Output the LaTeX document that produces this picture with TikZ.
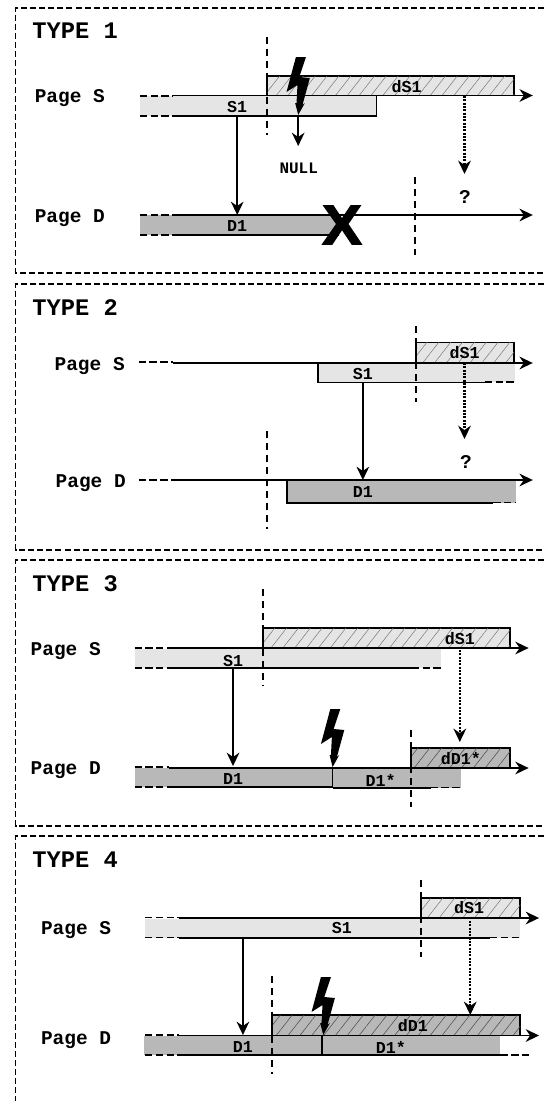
\documentclass[tikz,border=0pt]{standalone}
\usepackage{fontspec}
\setmonofont{Liberation Mono}
\newfontfamily\crossfont[BoldFeatures={FakeBold=2.5}]{Liberation Sans}
\usetikzlibrary{arrows.meta}
\usetikzlibrary{patterns.meta}
\definecolor{barlight}{gray}{0.90}
\definecolor{bardark}{gray}{0.72}
\tikzset{
  frameline/.style={line width=1pt,dash pattern=on 4.5pt off 2.3pt},
  cutline/.style={line width=1.2pt,dash pattern=on 5pt off 4pt},
  axisline/.style={line width=1.3pt},
  stubline/.style={line width=1.2pt,dash pattern=on 5.5pt off 2.6pt},
  copyarrow/.style={line width=1.2pt,-{Stealth[length=10pt,width=9.5pt]}},
  lateraarrow/.style={line width=1.6pt,dash pattern=on 1.4pt off 1.1pt,-{Stealth[length=10pt,width=9.5pt]}},
  hatchlight/.style={line width=1.3pt,fill=barlight,postaction={pattern={Lines[angle=52,distance=7pt,line width=.35pt]},pattern color=black!55}},
  hatchdark/.style={line width=1.3pt,fill=bardark,postaction={pattern={Lines[angle=52,distance=7pt,line width=.4pt]},pattern color=black!70}},
  typelabel/.style={inner sep=0pt,font=\ttfamily\bfseries\fontsize{17.8}{17.8}\selectfont},
  pagelabel/.style={inner sep=0pt,yshift=-1.4pt,font=\ttfamily\bfseries\fontsize{14.6}{14.6}\selectfont},
  barlabel/.style={inner sep=0pt,font=\ttfamily\bfseries\fontsize{12.5}{12.5}\selectfont},
  bolt/.pic={
    \fill (-2.2,-58)--(7.4,-58)--(1,-38)--(11.2,-37)--(4.1,-10)--(6.4,-12)--(0,0)--(-2.9,-12)--(-1.6,-12)--(-0.7,-30)--(-11.2,-23)--cycle;
  }
}
\begin{document}
\begin{tikzpicture}[line cap=butt,line join=miter,x=0.782pt,y=-0.75pt]
\useasboundingbox (0,0) rectangle (521.7,1101);
% TYPE 1
\draw[frameline] (521.7,8)--(15,8)--(15,273)--(521.7,273);
\node[typelabel] (typeA) at (72,31) {TYPE 1};
\fill[barlight] (134,96) rectangle (361,116);
\fill[bardark] (134,215) rectangle (325,235);
\draw[hatchlight] (256,95)--(256,76)--(493,76)--(493,95);
\draw[axisline] (166,116)--(361,116)--(361,96);
\draw[axisline] (166,235)--(325,235);
\draw[stubline] (134,96)--(166,96) (134,116)--(166,116) (134,215)--(166,215) (134,235)--(166,235);
\draw[cutline] (256,37)--(256,135);
\draw[cutline] (398,177)--(398,255);
\coordinate (axisSa) at (166,95.5);
\coordinate (axisSb) at (511,95.5);
\coordinate (axisDa) at (166,215);
\coordinate (axisDb) at (511,215);
\draw[copyarrow] (axisSa)--(axisSb);
\draw[copyarrow] (axisDa)--(axisDb);
\node[pagelabel] (pageSa) at (67,96) {Page S};
\node[pagelabel] (pageDa) at (67,216) {Page D};
\node[barlabel] (labSa) at (227.5,107) {S1};
\node[barlabel] (labdSa) at (390,87) {dS1};
\node[barlabel] (labDa) at (227.5,226) {D1};
\node[barlabel,font=\ttfamily\bfseries\fontsize{12}{12}\selectfont] (labNull) at (286.5,168) {NULL};
\node[pagelabel] (askA) at (446,195) {?};
\node[inner sep=0pt,xscale=1.06,font=\crossfont\bfseries\fontsize{42}{42}\selectfont] (crossA) at (328,225) {X};
\coordinate (fromSa) at (227.5,116);
\coordinate (toDa) at (227.5,215);
\coordinate (nullA) at (286,115);
\coordinate (nullB) at (286,146);
\coordinate (fromdSa) at (445.5,96);
\coordinate (todDa) at (445.5,174);
\draw[copyarrow] (fromSa)--(toDa);
\draw[copyarrow] (nullA)--(nullB);
\draw[lateraarrow] (fromdSa)--(todDa);
\pic at (286,115) {bolt};
% TYPE 2
\draw[frameline] (521.7,284)--(15,284)--(15,550)--(521.7,550);
\node[typelabel] (typeB) at (72,308) {TYPE 2};
\fill[barlight] (305,363) rectangle (494,382);
\fill[bardark] (275,480) rectangle (495,503);
\draw[hatchlight] (399,362)--(399,342.5)--(493,342.5)--(493,362);
\draw[axisline] (305,363)--(305,382.5)--(465,382.5);
\draw[axisline] (275,480)--(275,503)--(473,503);
\draw[stubline] (133,362)--(166,362) (465,382)--(494,382) (133,480)--(166,480) (473,502.5)--(495,502.5);
\draw[cutline] (399,326)--(399,402);
\draw[cutline] (256,431)--(256,529);
\coordinate (axisSc) at (166,363);
\coordinate (axisSd) at (511,363);
\coordinate (axisDc) at (166,480);
\coordinate (axisDd) at (511,480);
\draw[copyarrow] (axisSc)--(axisSd);
\draw[copyarrow] (axisDc)--(axisDd);
\node[pagelabel] (pageSb) at (86,364) {Page S};
\node[pagelabel] (pageDb) at (87,481) {Page D};
\node[barlabel] (labSb) at (348,374) {S1};
\node[barlabel] (labdSb) at (445.5,353) {dS1};
\node[barlabel] (labDb) at (348,492) {D1};
\node[pagelabel] (askB) at (447,460) {?};
\coordinate (fromSb) at (348,383);
\coordinate (toDb) at (348,480);
\coordinate (fromdSb) at (445.5,363);
\coordinate (todDb) at (445.5,439);
\draw[copyarrow] (fromSb)--(toDb);
\draw[lateraarrow] (fromdSb)--(todDb);
% TYPE 3
\draw[frameline] (521.7,560)--(15,560)--(15,826)--(521.7,826);
\node[typelabel] (typeC) at (72,584) {TYPE 3};
\fill[barlight] (129,649) rectangle (423,668);
\fill[bardark] (129,768) rectangle (319,787);
\fill[bardark] (319,768) rectangle (442,788);
\draw[hatchlight] (252,648)--(252,628)--(489,628)--(489,648);
\draw[hatchdark] (394,767)--(394,748)--(489,748)--(489,767);
\draw[axisline] (162,668)--(395,668);
\draw[axisline] (162,787)--(319,787)--(319,768);
\draw[axisline] (319,788)--(413,788);
\draw[stubline] (129,648)--(162,648) (129,668)--(162,668) (395,668)--(423,668) (129,767)--(162,767) (129,787)--(162,787) (413,787.5)--(442,787.5);
\draw[cutline] (252,589)--(252,686);
\draw[cutline] (394,730)--(394,807);
\coordinate (axisSe) at (162,648);
\coordinate (axisSf) at (507,648);
\coordinate (axisDe) at (162,768);
\coordinate (axisDf) at (507,768);
\draw[copyarrow] (axisSe)--(axisSf);
\draw[copyarrow] (axisDe)--(axisDf);
\node[pagelabel] (pageSc) at (63,649) {Page S};
\node[pagelabel] (pageDc) at (63,768) {Page D};
\node[barlabel] (labSc) at (223.5,661) {S1};
\node[barlabel] (labdSc) at (441,639) {dS1};
\node[barlabel] (labDc) at (223.5,779) {D1};
\node[barlabel] (labDsc) at (365,780) {D1*};
\node[barlabel] (labdDc) at (442,759) {dD1*};
\coordinate (fromSc) at (223.5,669);
\coordinate (toDc) at (223.5,766);
\coordinate (fromdSc) at (441,650);
\coordinate (todDc) at (441,742);
\draw[copyarrow] (fromSc)--(toDc);
\draw[lateraarrow] (fromdSc)--(todDc);
\pic at (319,767) {bolt};
% TYPE 4
\draw[frameline] (521.7,836)--(15,836)--(15,1101);
\node[typelabel] (typeD) at (72,860) {TYPE 4};
\fill[barlight] (139,919) rectangle (499,938);
\fill[bardark] (138,1036) rectangle (480,1055);
\draw[hatchlight] (404,918)--(404,898)--(499,898)--(499,918);
\draw[hatchdark] (261,1035)--(261,1015)--(499,1015)--(499,1035);
\draw[axisline] (172,938)--(470,938);
\draw[axisline] (172,1055)--(480,1055);
\draw[axisline] (309,1035)--(309,1055);
\draw[stubline] (139,917.5)--(172,917.5) (139,937.5)--(172,937.5) (470,937.5)--(499,937.5) (139,1035)--(172,1035) (139,1055)--(172,1055) (480,1055)--(508,1055);
\draw[cutline] (404,880)--(404,957);
\draw[cutline] (261,976)--(261,1074);
\coordinate (axisSg) at (172,918);
\coordinate (axisSh) at (517,918);
\coordinate (axisDg) at (172,1035.5);
\coordinate (axisDh) at (517,1035.5);
\draw[copyarrow] (axisSg)--(axisSh);
\draw[copyarrow] (axisDg)--(axisDh);
\node[pagelabel] (pageSd) at (73,928) {Page S};
\node[pagelabel] (pageDd) at (73,1038) {Page D};
\node[barlabel] (labSd) at (328,928) {S1};
\node[barlabel] (labdSd) at (450,908) {dS1};
\node[barlabel] (labDd) at (233,1047) {D1};
\node[barlabel] (labDsd) at (375,1047) {D1*};
\node[barlabel] (labdDd) at (396,1026) {dD1};
\coordinate (fromSd) at (233,938);
\coordinate (toDd) at (233,1035);
\coordinate (fromdSd) at (451,921);
\coordinate (todDd) at (451,1015);
\draw[copyarrow] (fromSd)--(toDd);
\draw[lateraarrow] (fromdSd)--(todDd);
\pic at (310,1035) {bolt};
\end{tikzpicture}
\end{document}
